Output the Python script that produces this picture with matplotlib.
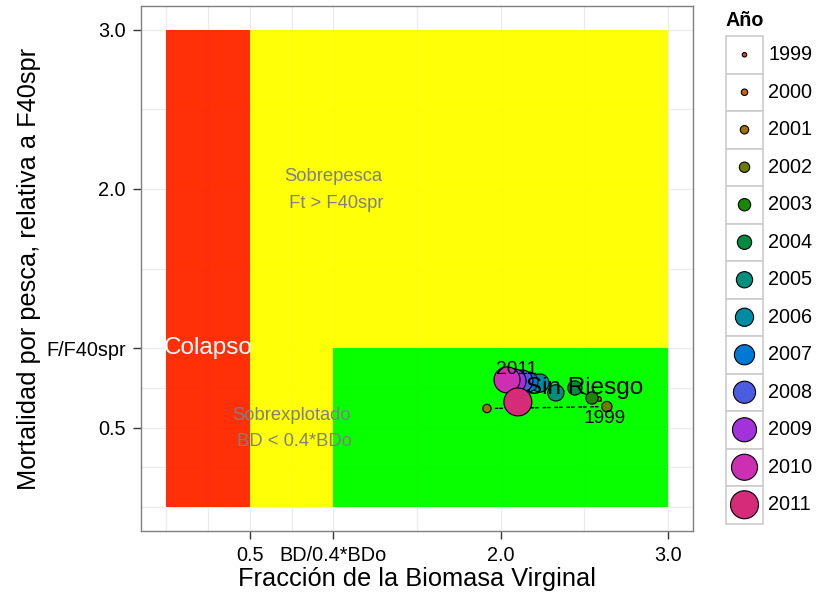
import matplotlib
matplotlib.use("Agg")
import matplotlib.pyplot as plt
from matplotlib.patches import Rectangle

plt.rcParams['font.family'] = ['Liberation Sans', 'DejaVu Sans']

# ---- data ----
years = [1999, 2000, 2001, 2002, 2003, 2004, 2005, 2006, 2007, 2008, 2009, 2010, 2011]
bd = [2.588, 2.635, 1.918, 2.635, 2.546, 2.444, 2.330, 2.235, 2.163, 2.127, 2.080, 2.038, 2.103]
ff = [0.680, 0.632, 0.620, 0.632, 0.686, 0.749, 0.718, 0.780, 0.787, 0.793, 0.793, 0.800, 0.661]
colors = ['#E0442C', '#C8620F', '#9F7000', '#6E7B00', '#1A8700', '#008B3E', '#008F7D',
          '#008BA3', '#0079D6', '#4A5CE0', '#A332DA', '#CC2FB2', '#D52B78']

x_ticks = [0.5, 1.0, 2.0, 3.0]
x_labels = ['0.5', 'BD/0.4*BDo', '2.0', '3.0']
y_ticks = [0.5, 1.0, 2.0, 3.0]
y_labels = ['0.5', 'F/F40spr', '2.0', '3.0']
grid_x = [0.0, 0.25, 0.5, 0.75, 1.0, 1.5, 2.0, 2.5, 3.0]
grid_y = [0.0, 0.25, 0.5, 0.75, 1.0, 1.5, 2.0, 2.5, 3.0]

# zones: (x0, x1, y0, y1, color)
zones = [
    (0.0, 0.5, 0.0, 3.0, '#FF2800'),
    (0.5, 3.0, 0.0, 3.0, '#FFFF00'),
    (1.0, 3.0, 0.0, 1.0, '#00FF00'),
]

W, H = 816, 598
fig = plt.figure(figsize=(W / 100, H / 100), dpi=100)
ax = fig.add_axes([141 / W, 1 - 531 / H, (693 - 141) / W, (531 - 6) / H])
ax.set_xlim(-0.15, 3.15)
ax.set_ylim(-0.15, 3.15)

for gx in grid_x:
    ax.axvline(gx, color='#EBEBEB', lw=0.9, zorder=0)
for gy in grid_y:
    ax.axhline(gy, color='#EBEBEB', lw=0.9, zorder=0)

for x0, x1, y0, y1, c in zones:
    ax.add_patch(Rectangle((x0, y0), x1 - x0, y1 - y0, facecolor=c, edgecolor='none',
                           alpha=0.97, zorder=1))

# path
ax.plot(bd, ff, color='black', lw=1.0, ls=(0, (2.6, 6.0)), zorder=2)

# sizes: diameter grows linearly with year
n = len(years)
diam_px = [4.5 + i * 23.5 / (n - 1) for i in range(n)]
sizes = [(d * 0.72) ** 2 for d in diam_px]
ax.scatter(bd, ff, s=sizes, c=colors, edgecolors='black', linewidths=0.8, zorder=3)

# zone texts
ax.text(0.25, 1.0, 'Colapso', color='white', fontsize=17.5, ha='center', va='center', zorder=5)
ax.text(1.0, 1.995, 'Sobrepesca\n Ft > F40spr', color='#808080', fontsize=13.2,
        ha='center', va='center', linespacing=1.75, zorder=5)
ax.text(0.75, 0.495, 'Sobrexplotado\n BD < 0.4*BDo', color='#808080', fontsize=13.2,
        ha='center', va='center', linespacing=1.75, zorder=5)
ax.text(2.5, 0.75, 'Sin Riesgo', color='black', fontsize=17.5, ha='center', va='center', zorder=5)

# year labels
ax.text(bd[-1] - 0.006, ff[-1] + 0.205, str(years[-1]), fontsize=13.8, ha='center', va='center', zorder=5)
ax.text(bd[0] + 0.036, ff[0] - 0.12, str(years[0]), fontsize=13.8, ha='center', va='center', zorder=5)

ax.set_xticks(x_ticks)
ax.set_xticklabels(x_labels)
ax.set_yticks(y_ticks)
ax.set_yticklabels(y_labels)
ax.tick_params(axis='both', labelsize=14.3, length=6, width=1, color='#333333', pad=5)
ax.set_xlabel('Fracción de la Biomasa Virginal', fontsize=18.3, labelpad=1)
ax.set_ylabel('Mortalidad por pesca, relativa a F40spr', fontsize=18.3, labelpad=4)
for sp in ax.spines.values():
    sp.set_color('#7F7F7F')
    sp.set_linewidth(1.0)

# legend
key_top, key_h = 36, 37.5
lax = fig.add_axes([726 / W, 1 - (key_top + key_h * n) / H, 37 / W, key_h * n / H])
lax.set_xlim(0, 1)
lax.set_ylim(n, 0)
lax.axis('off')
for i in range(n):
    lax.add_patch(Rectangle((0, i), 1, 1, facecolor='white', edgecolor='#CCCCCC', lw=1.2, clip_on=False))
lax.scatter([0.5] * n, [i + 0.5 for i in range(n)], s=sizes, c=colors, edgecolors='black',
            linewidths=0.8, zorder=3, clip_on=False)
for i, yv in enumerate(years):
    fig.text(768 / W, 1 - (key_top + key_h * (i + 0.5)) / H, str(yv), fontsize=14.3,
             ha='left', va='center')
fig.text(726 / W, 1 - 21 / H, 'Año', fontsize=14.2, fontweight='bold', ha='left', va='center')

fig.savefig('out.png', dpi=100)
